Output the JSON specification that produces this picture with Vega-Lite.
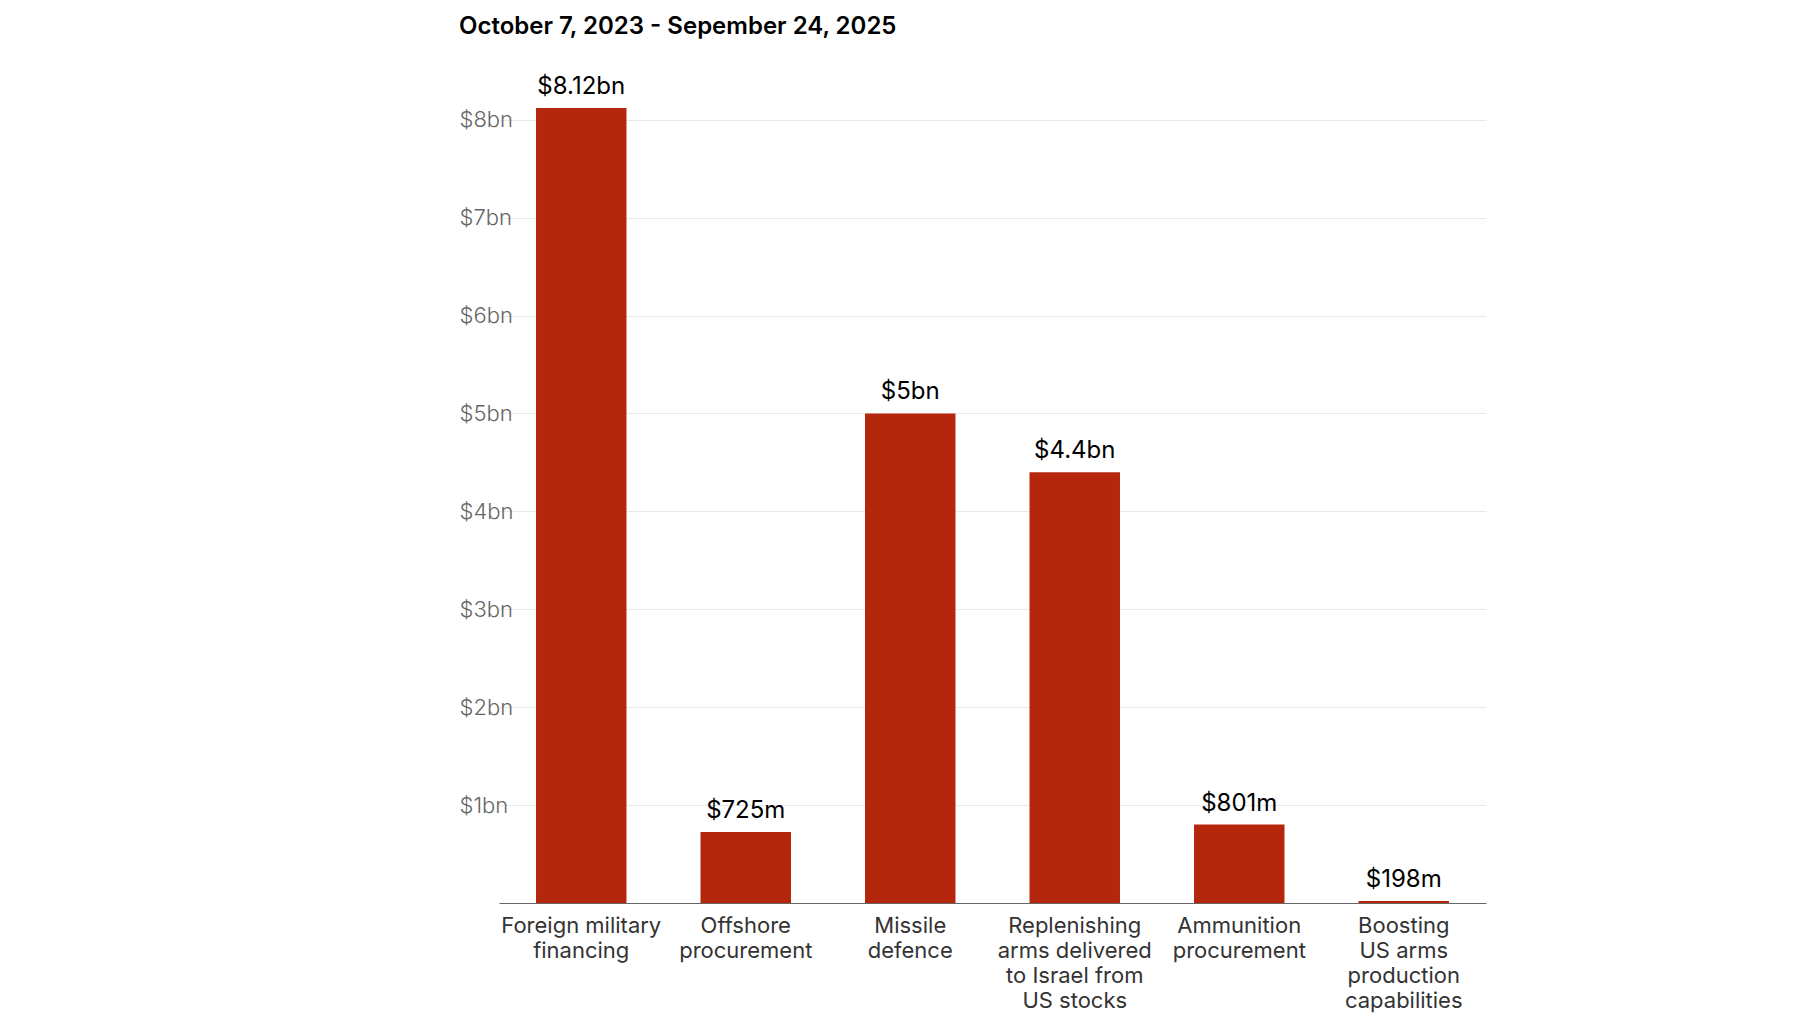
{
  "$schema": "https://vega.github.io/schema/vega-lite/v6.json",
  "autosize": {"type": "none"},
  "width": 987,
  "height": 795,
  "padding": {"left": 499, "top": 108, "right": 329, "bottom": 118},
  "background": "white",
  "title": {
    "text": "October 7, 2023 - Sepember 24, 2025",
    "anchor": "start",
    "frame": "bounds",
    "font": "Inter",
    "fontSize": 24,
    "fontWeight": 600,
    "color": "#000000",
    "offset": 36
  },
  "data": {
    "values": [
      {"category": "Foreign military|financing", "value": 8.12, "label": "$8.12bn"},
      {"category": "Offshore|procurement", "value": 0.725, "label": "$725m"},
      {"category": "Missile|defence", "value": 5.0, "label": "$5bn"},
      {"category": "Replenishing|arms delivered|to Israel from|US stocks", "value": 4.4, "label": "$4.4bn"},
      {"category": "Ammunition|procurement", "value": 0.801, "label": "$801m"},
      {"category": "Boosting|US arms|production|capabilities", "value": 0.02, "label": "$198m"}
    ]
  },
  "encoding": {
    "x": {
      "field": "category",
      "type": "nominal",
      "sort": null,
      "scale": {"paddingInner": 0.45, "paddingOuter": 0.225},
      "axis": {
        "title": null,
        "labelAngle": 0,
        "labelExpr": "split(datum.value, '|')",
        "labelFont": "Inter",
        "labelFontSize": 22,
        "labelLineHeight": 25,
        "labelColor": "#333333",
        "labelPadding": 12,
        "ticks": false,
        "domainColor": "#666666",
        "domainWidth": 1.2,
        "grid": false
      }
    },
    "y": {
      "field": "value",
      "type": "quantitative",
      "scale": {"domain": [0, 8.12], "nice": false},
      "axis": {
        "title": null,
        "values": [0, 1, 2, 3, 4, 5, 6, 7, 8],
        "labelExpr": "datum.value == 0 ? '' : '$' + datum.value + 'bn'",
        "labelFont": "Inter",
        "labelFontSize": 22,
        "labelFontWeight": 300,
        "labelColor": "#666666",
        "labelAlign": "left",
        "labelBaseline": "middle",
        "labelPadding": 40,
        "ticks": false,
        "domain": false,
        "grid": true,
        "gridColor": "#e8e8e8",
        "gridWidth": 1
      }
    }
  },
  "layer": [
    {
      "mark": {"type": "bar", "color": "#b5270c"}
    },
    {
      "mark": {"type": "text", "font": "Inter", "fontSize": 24, "color": "#000000", "baseline": "middle", "dy": -21},
      "encoding": {"text": {"field": "label"}}
    }
  ],
  "config": {"view": {"stroke": null}}
}
